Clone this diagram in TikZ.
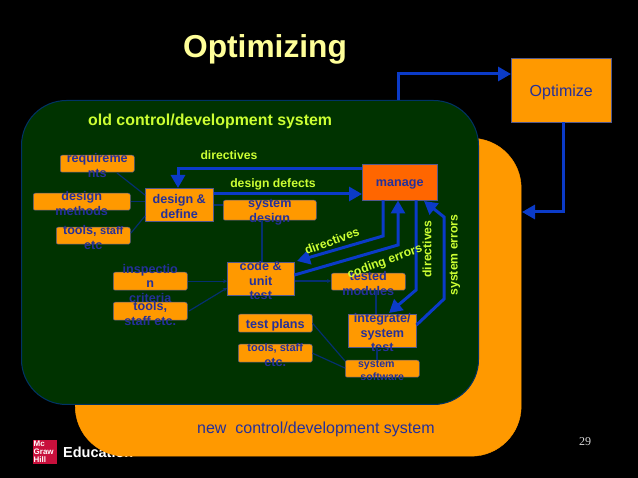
\documentclass[tikz,border=0pt]{standalone}
\usepackage{fontspec}
\setmainfont{Liberation Sans}
\newfontfamily\numfont{Liberation Serif}
\usetikzlibrary{arrows.meta}
\definecolor{bgreen}{HTML}{003300}
\definecolor{bborder}{HTML}{003366}
\definecolor{borange}{HTML}{FF9900}
\definecolor{bmanage}{HTML}{FF6600}
\definecolor{bblue}{HTML}{0B3BC8}
\definecolor{ink}{HTML}{25309A}
\definecolor{thin}{HTML}{053070}
\definecolor{ylw}{HTML}{CCFF33}
\newcommand{\smf}{\fontsize{10.6}{14.6}\selectfont}
\tikzset{
  x=1pt,y=-1pt,
  boxbase/.style={draw=ink!50!gray,line width=0.5pt,fill=borange,inner sep=0pt,anchor=north west},
  rbox/.style={boxbase,rounded corners=2pt},
  lbl/.style={text=ink,font=\bfseries\fontsize{12.6}{14.6}\selectfont,align=center,inner sep=0pt,yshift=-2pt},
  ylab/.style={text=ylw,font=\bfseries\fontsize{12.2}{14}\selectfont,inner sep=0pt},
  heavyb/.style={draw=bblue,line width=3pt,-{Triangle[width=14pt,length=13pt]},line join=miter},
  fine/.style={draw=thin,line width=1.2pt},
  finea/.style={fine,-{Stealth[length=4pt,width=4pt]}}
}
\newcommand{\bx}[7][rbox]{% style, name, x1, y1, x2, y2, text
  \pgfmathsetmacro{\boxw}{#5-#3}\pgfmathsetmacro{\boxh}{#6-#4}
  \node[#1,minimum width=\boxw pt,minimum height=\boxh pt,label={[lbl]center:#7}] (#2) at (#3,#4) {};}
\begin{document}
\begin{tikzpicture}
\useasboundingbox (0,0) rectangle (638,478);
\fill[black] (0,0) rectangle (638,478);
% logo
\node[fill={rgb,255:red,200;green,16;blue,60},minimum width=24pt,minimum height=24pt,inner sep=0pt,anchor=north west] (logo) at (33,440) {};
\node[text=white,font=\bfseries\fontsize{8}{7.8}\selectfont,align=left,inner sep=0pt,anchor=west] (logotext) at (33.5,452) {Mc\\Graw\\Hill};
\node[text=white,font=\bfseries\fontsize{14.5}{16}\selectfont,inner sep=0pt,anchor=west] (edu) at (63,452.5) {Education};
\node[text=white!70!gray,font=\numfont\fontsize{12}{14}\selectfont,inner sep=0pt] (pnum) at (585,442) {29};
% panels
\node[fill=borange,draw=borange,rounded corners=50pt,minimum width=446pt,minimum height=318pt,inner sep=0pt,anchor=north west] (newsys) at (75,138) {};
\node[fill=bgreen,draw=bborder,line width=1pt,rounded corners=45pt,minimum width=457pt,minimum height=304pt,inner sep=0pt,anchor=north west] (oldsys) at (21,100) {};
% title and captions
\node[text={rgb,255:red,255;green,255;blue,153},font=\bfseries\fontsize{31.7}{36}\selectfont,inner sep=0pt] (title) at (265,49) {Optimizing};
\node[text=ylw,font=\bfseries\fontsize{15.9}{18}\selectfont,inner sep=0pt,anchor=west] (oldlab) at (88,121) {old control/development system};
\node[text=ink,font=\fontsize{16}{18}\selectfont,inner sep=0pt,anchor=west] (newlab) at (197,429.5) {new\ \ control/development system};
% boxes
\bx[boxbase]{opt}{511}{58}{611}{122}{\mdseries\fontsize{16}{18}\selectfont Optimize}
\bx{req}{60}{155}{134}{172}{requireme\\nts}
\bx{dm}{33}{193}{130}{210}{design\\methods}
\bx{ts}{56}{227}{130}{244}{tools, {\fontsize{11}{14.6}\selectfont staff}\\etc}
\bx[boxbase]{dd}{145}{188}{213}{221}{design \&\\define}
\bx{sd}{223}{200}{316}{220}{system\\design}
\bx[boxbase,fill=bmanage]{man}{362}{164}{437}{200}{manage}
\bx[boxbase]{cu}{227}{262}{294}{295}{code \&\\unit\\test}
\bx{tm}{331}{273}{405}{290}{tested\\modules}
\bx{ic}{113}{272}{187}{290}{inspectio\\n\\criteria}
\bx{tse}{113}{302}{187}{320}{tools,\\staff etc.}
\bx{tp}{238}{314}{312}{332}{test plans}
\bx{tsb}{238}{344}{312}{362}{\fontsize{11}{14.6}\selectfont tools, staff\\etc.}
\bx[boxbase]{ist}{348}{314}{416}{347}{integrate/\\system\\test}
\bx{ss}{345}{360}{419}{377}{\smf system\phantom{\ \ \ \ }\\[-2pt]\smf software}
% fine connectors
\draw[fine] (117,173) -- (dd.west |- 0,195);
\draw[fine] (dm.east) -- (dd.west |- dm.east);
\draw[fine] (131,233) -- (dd.west |- 0,216);
\draw[fine] (dd.east |- 0,205) -- (sd.west |- 0,205);
\draw[fine] (sd.south -| 262,0) -- (cu.north -| 262,0);
\draw[finea] (ic.east) -- (cu.west |- ic.east);
\draw[finea] (189,311) -- (cu.west |- 0,288);
\draw[finea] (cu.east |- 0,281) -- (tm.west |- 0,281);
\draw[fine] (tm.south -| 376,0) -- (ist.north -| 376,0);
\draw[fine] (ist.south -| 377,0) -- (ss.north -| 377,0);
\draw[fine] (tp.east) -- (ss.west |- 0,361);
\draw[fine] (tsb.east) -- (ss.west |- 0,368);
% heavy connectors
\draw[heavyb] (398,100) -- (398,74) -- (opt.west |- 0,74);
\draw[heavyb] (opt.south -| 563,0) -- (563,212) -- (522,212);
\draw[heavyb] (man.west |- 0,169) -- (178,169) -- (dd.north -| 178,0);
\draw[heavyb] (dd.east |- 0,194) -- (man.west |- 0,194);
\draw[heavyb] (man.south -| 383,0) -- (383,236) -- (297,261);
\draw[heavyb] (cu.east |- 0,275) -- (398,245) -- (man.south -| 398,0);
\draw[heavyb] (man.south -| 416,0) -- (416,290) -- (389,313);
\draw[heavyb] (ist.east |- 0,325) -- (444,299) -- (444,217) -- (424,201);
% labels on connectors
\node[ylab] (l1) at (229,155) {directives};
\node[ylab] (l2) at (273,184.5) {design defects};
\node[ylab,rotate=20] (l3) at (332,241) {directives};
\node[ylab,rotate=20] (l4) at (385,262) {coding errors};
\node[ylab,rotate=90] (l5) at (427,249) {directives};
\node[ylab,rotate=90] (l6) at (455,255) {system errors};
\end{tikzpicture}
\end{document}
